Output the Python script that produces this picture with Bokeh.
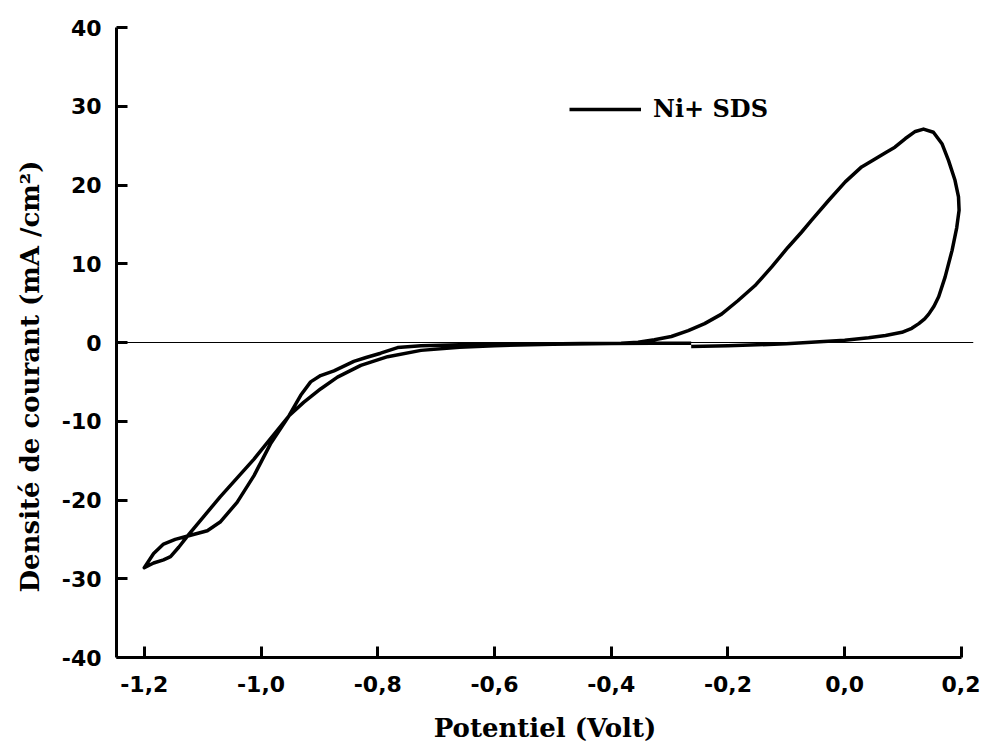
from bokeh.plotting import figure
from bokeh.models import Range1d, FixedTicker, Span, Legend, LegendItem, Title
from bokeh.embed import file_html
from bokeh.resources import INLINE

# ---- data ----
potential = [
    -0.263, -0.20, -0.15, -0.10, -0.05, 0.0, 0.041, 0.07, 0.098, 0.115, 0.127, 0.137, 0.144,
    0.153, 0.161, 0.172, 0.184, 0.192, 0.196, 0.195, 0.189, 0.178, 0.167, 0.152, 0.135,
    0.121, 0.104, 0.086, 0.072, 0.052, 0.029, 0.001, -0.028, -0.057, -0.074, -0.097, -0.125,
    -0.154, -0.183, -0.211, -0.240, -0.268, -0.297, -0.326, -0.354, -0.383, -0.45, -0.52,
    -0.60, -0.66, -0.726, -0.766, -0.795, -0.82, -0.841, -0.875, -0.898, -0.915, -0.932,
    -0.952, -0.984, -1.012, -1.041, -1.070, -1.092, -1.127, -1.147, -1.167, -1.184, -1.200,
    -1.184, -1.167, -1.155, -1.141, -1.124, -1.070, -1.012, -0.952, -0.927, -0.898, -0.869,
    -0.829, -0.783, -0.726, -0.66, -0.60, -0.50, -0.40, -0.33, -0.263,
]
current = [
    -0.5, -0.4, -0.3, -0.15, 0.05, 0.3, 0.6, 0.9, 1.3, 1.8, 2.4, 3.0, 3.6,
    4.6, 5.8, 8.3, 11.7, 14.6, 16.8, 18.5, 20.6, 23.1, 25.2, 26.7, 27.1,
    26.8, 25.9, 24.8, 24.2, 23.3, 22.3, 20.4, 18.0, 15.5, 14.0, 12.1, 9.6,
    7.2, 5.3, 3.6, 2.4, 1.5, 0.76, 0.34, 0.04, -0.09, -0.13, -0.18,
    -0.25, -0.30, -0.40, -0.65, -1.36, -1.9, -2.4, -3.6, -4.2, -5.0, -6.7,
    -9.3, -12.9, -16.9, -20.3, -22.8, -23.9, -24.6, -25.0, -25.6, -26.8, -28.6,
    -28.0, -27.6, -27.2, -26.0, -24.4, -19.6, -14.8, -9.3, -7.6, -5.9, -4.4,
    -2.9, -1.8, -1.0, -0.6, -0.4, -0.22, -0.12, -0.1, -0.1,
]
series_name = "Ni+ SDS"

x_ticks = [-1.2, -1.0, -0.8, -0.6, -0.4, -0.2, 0.0, 0.2]
x_labels = ["-1,2", "-1,0", "-0,8", "-0,6", "-0,4", "-0,2", "0,0", "0,2"]
y_ticks = [-40, -30, -20, -10, 0, 10, 20, 30, 40]
y_labels = ["-40", "-30", "-20", "-10", "0", "10", "20", "30", "40"]

x_title = "Potentiel (Volt)"
y_title = "Densité de courant (mA /cm²)"

# ---- figure ----
X0, X1 = -1.2476, 0.2207
p = figure(width=980, height=748, x_range=Range1d(X0, X1), y_range=Range1d(-40, 40),
           output_backend="svg", toolbar_location=None,
           min_border_left=116, min_border_right=7, min_border_top=27, min_border_bottom=91)
p.outline_line_color = None
p.grid.visible = False
p.background_fill_color = "white"

zero = Span(location=0, dimension="width", line_color="black", line_width=1)
p.add_layout(zero)

r = p.line(potential, current, line_color="black", line_width=3.5, line_join="round")

for ax in (p.xaxis[0], p.yaxis[0]):
    ax.axis_line_width = 3
    ax.axis_line_color = "black"
    ax.major_tick_line_width = 3
    ax.major_tick_in = 11
    ax.major_tick_out = 0
    ax.minor_tick_in = 0
    ax.minor_tick_out = 0
    ax.major_label_text_font = "DejaVu Sans"
    ax.major_label_text_font_style = "bold"
    ax.major_label_text_font_size = "22px"
    ax.major_label_text_color = "black"
    ax.axis_label_text_font = "DejaVu Serif"
    ax.axis_label_text_font_style = "bold"
    ax.axis_label_text_font_size = "26px"
    ax.axis_label_text_color = "black"

xa = p.xaxis[0]
xa.ticker = FixedTicker(ticks=x_ticks)
xa.major_label_overrides = dict(zip(x_ticks, x_labels))
xa.bounds = (X0, 0.2)
xa.major_label_standoff = 18
xa.axis_label = x_title
xa.axis_label_standoff = 18

ya = p.yaxis[0]
ya.ticker = FixedTicker(ticks=y_ticks)
ya.major_label_overrides = dict(zip(y_ticks, y_labels))
ya.major_label_standoff = 15

ytitle = Title(text=y_title, align="left", offset=65, standoff=24, vertical_align="top",
               text_font="DejaVu Serif", text_font_style="bold", text_font_size="26px",
               text_color="black")
p.add_layout(ytitle, "left")

legend = Legend(items=[LegendItem(label=series_name, renderers=[r])],
                location=(453, 534), padding=0, margin=0, spacing=0,
                glyph_width=72, glyph_height=20, label_standoff=12,
                border_line_color=None, background_fill_alpha=0,
                label_text_font="DejaVu Serif", label_text_font_style="bold",
                label_text_font_size="24px", label_text_color="black")
p.add_layout(legend)

open("out.html", "w").write(file_html(p, INLINE))
